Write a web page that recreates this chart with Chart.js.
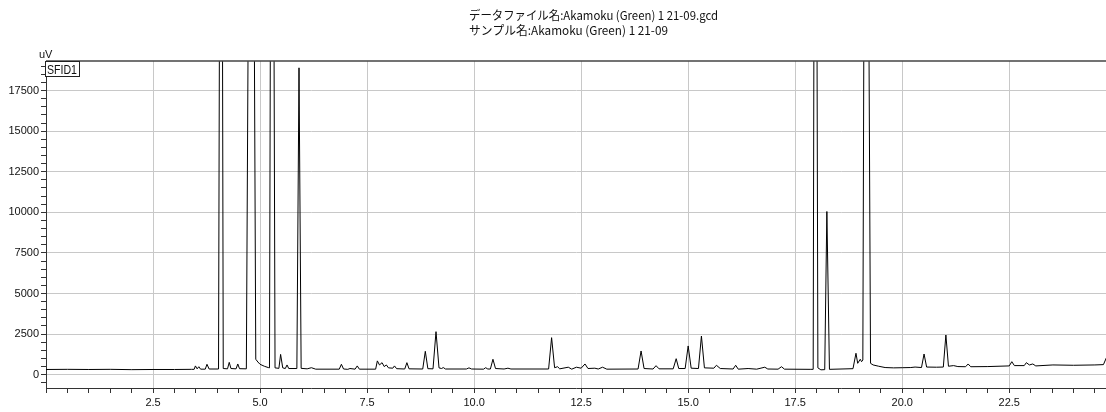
<!DOCTYPE html>
<html>
<head>
<meta charset="utf-8">
<script src="https://cdn.jsdelivr.net/npm/chart.js@4.4.1/dist/chart.umd.min.js"></script>
<style>
    body { margin: 0; background: #fff; }
</style>
</head>
<body>
<canvas id="chromChart" width="1106" height="412"></canvas>
<script>
// chromatogram (minutes, uV)
var retentionTime = [
    0.0, 0.5, 1.0, 1.5, 2.0, 2.5, 3.0, 3.4, 3.46, 3.49, 3.53, 3.57, 3.61, 3.72, 3.76, 3.81,
    4.03, 4.09, 4.14, 4.24, 4.28, 4.32, 4.44, 4.48, 4.52, 4.68, 4.80, 4.90, 4.95, 5.0, 5.1, 5.19,
    5.22, 5.28, 5.35, 5.44, 5.48, 5.53, 5.59, 5.63, 5.67, 5.86, 5.91, 5.96, 6.1, 6.2, 6.3,
    6.85, 6.9, 6.95, 7.05, 7.1, 7.22, 7.27, 7.32, 7.70, 7.74, 7.79, 7.85, 7.9, 7.95, 8.0, 8.1,
    8.14, 8.19, 8.38, 8.43, 8.48, 8.80, 8.86, 8.92, 9.04, 9.11, 9.18, 9.24, 9.28, 9.33, 9.82,
    9.88, 9.94, 10.22, 10.27, 10.32, 10.38, 10.44, 10.50, 10.7, 10.79, 10.86, 11.74, 11.81,
    11.88, 11.95, 12.0, 12.2, 12.28, 12.39, 12.5, 12.59, 12.66, 12.82, 12.9, 13.0, 13.1,
    13.83, 13.9, 13.97, 14.18, 14.25, 14.32, 14.65, 14.72, 14.78, 14.93, 15.0, 15.07, 15.24,
    15.31, 15.38, 15.6, 15.66, 15.75, 16.05, 16.11, 16.17, 16.4, 16.6, 16.79, 16.86, 17.1,
    17.18, 17.25, 17.85, 17.92, 17.97, 18.03, 18.10, 18.19, 18.24, 18.30, 18.85, 18.92, 18.96,
    19.02, 19.05, 19.08, 19.15, 19.26, 19.32, 19.45, 19.6, 19.8, 20.0, 20.2, 20.3, 20.45,
    20.51, 20.57, 20.8, 20.96, 21.02, 21.08, 21.2, 21.3, 21.48, 21.54, 21.6, 22.0, 22.5,
    22.56, 22.62, 22.85, 22.9, 22.97, 23.05, 23.12, 23.52, 24.0, 24.5, 24.7, 24.77
];
var intensity = [
    320, 330, 320, 330, 310, 320, 320, 330, 330, 540, 360, 490, 340, 340, 640, 350,
    350, 60000, 380, 360, 760, 380, 360, 660, 370, 360, 60000, 950, 780, 640, 520, 440,
    420, 60000, 420, 390, 1250, 420, 380, 600, 380, 380, 18900, 390, 360, 430, 340,
    340, 640, 350, 330, 380, 340, 540, 340, 340, 850, 600, 740, 500, 600, 420, 400,
    540, 370, 350, 740, 360, 350, 1440, 370, 360, 2650, 420, 380, 440, 350, 350,
    420, 350, 340, 430, 350, 350, 950, 380, 350, 400, 350, 350, 2280,
    430, 490, 360, 460, 340, 460, 400, 660, 380, 400, 350, 460, 340,
    350, 1460, 380, 350, 555, 360, 360, 985, 380, 380, 1770, 400, 380,
    2380, 420, 400, 580, 380, 350, 580, 340, 380, 340, 460, 350, 340,
    490, 340, 330, 330, 60000, 420, 300, 310, 10050, 330, 370, 1320, 700,
    950, 800, 900, 60000, 700, 600, 520, 440, 420, 430, 440, 470, 440,
    1275, 470, 460, 470, 2445, 520, 560, 500, 490, 660, 490, 500, 540,
    800, 560, 560, 740, 600, 660, 540, 600, 580, 600, 620, 1050
];

var titleLines = ["データファイル名:Akamoku (Green) 1 21-09.gcd", "サンプル名:Akamoku (Green) 1 21-09"];
var yUnit = "uV";
var traceName = "SFID1";

// axis ranges and tick steps (minor / labelled)
var xRange = [0, 24.76];
var yRange = [-820, 19320];
var xMinorStep = 0.5, xLabelStep = 2.5;
var yMinorStep = 500, yLabelStep = 2500;

var points = [];
for (var i = 0; i < retentionTime.length; i++) {
    points.push({ x: retentionTime[i], y: intensity[i] });
}

var tickFont = { family: "'Liberation Sans Narrow', 'Liberation Sans', sans-serif", size: 11 };

function isMajor(v, step) {
    var r = Math.abs(v / step - Math.round(v / step));
    return r < 1e-6;
}

function stepTicks(scale, step) {
    var ticks = [];
    var first = Math.ceil(scale.min / step);
    var last = Math.floor(scale.max / step);
    for (var k = first; k <= last; k++) {
        ticks.push({ value: Math.round(k * step * 1000) / 1000 });
    }
    scale.ticks = ticks;
}

// header texts, unit label, trace box and top frame line
var decorations = {
    id: 'decorations',
    afterDraw: function (chart) {
        var ctx = chart.ctx;
        var area = chart.chartArea;
        ctx.save();
        ctx.fillStyle = '#111';
        ctx.font = "12px 'Noto Sans CJK JP', sans-serif";
        ctx.textBaseline = 'alphabetic';
        ctx.textAlign = 'left';
        ctx.fillText(titleLines[0], 469, 20, 249);
        ctx.fillText(titleLines[1], 469, 35, 199);

        ctx.font = "11px 'Liberation Sans Narrow', 'Liberation Sans', sans-serif";
        ctx.fillText(yUnit, 39, 58);

        ctx.strokeStyle = '#444';
        ctx.lineWidth = 1.5;
        ctx.beginPath();
        ctx.moveTo(area.left, area.top);
        ctx.lineTo(area.right, area.top);
        ctx.stroke();

        ctx.lineWidth = 1;
        ctx.strokeStyle = '#222';
        ctx.fillStyle = '#fff';
        ctx.fillRect(45.5, 61.5, 34, 15);
        ctx.strokeRect(45.5, 61.5, 34, 15);
        ctx.fillStyle = '#111';
        ctx.font = "12px 'Liberation Sans Narrow', 'Liberation Sans', sans-serif";
        ctx.fillText(traceName, 47, 74, 30);
        ctx.restore();
    }
};

new Chart("chromChart", {
    type: "line",
    data: {
        datasets: [{
            data: points,
            borderColor: '#000',
            borderWidth: 1,
            pointRadius: 0,
            tension: 0,
            fill: false
        }]
    },
    options: {
        responsive: false,
        animation: false,
        layout: {
            padding: { top: 61, right: 0, left: 0, bottom: 0 }
        },
        plugins: {
            legend: { display: false },
            title: { display: false },
            tooltip: { enabled: false }
        },
        scales: {
            x: {
                type: 'linear',
                min: xRange[0],
                max: xRange[1],
                afterBuildTicks: function (scale) { stepTicks(scale, xMinorStep); },
                afterFit: function (scale) { scale.height = 24; },
                border: { color: '#333', width: 1 },
                grid: {
                    color: function (c) {
                        return isMajor(c.tick.value, xLabelStep) && c.tick.value > 0 ? '#c8c8c8' : 'rgba(0,0,0,0)';
                    },
                    tickColor: '#333',
                    tickLength: 5
                },
                ticks: {
                    autoSkip: false,
                    maxRotation: 0,
                    padding: 3,
                    color: '#111',
                    font: tickFont,
                    callback: function (v) {
                        if (v > 0 && isMajor(v, xLabelStep)) {
                            return v.toFixed(1);
                        }
                        return '';
                    }
                }
            },
            y: {
                min: yRange[0],
                max: yRange[1],
                afterBuildTicks: function (scale) { stepTicks(scale, yMinorStep); },
                afterFit: function (scale) { scale.width = 46; },
                border: { color: '#333', width: 1 },
                grid: {
                    color: function (c) {
                        return isMajor(c.tick.value, yLabelStep) ? '#c8c8c8' : 'rgba(0,0,0,0)';
                    },
                    tickColor: '#333',
                    tickLength: 5
                },
                ticks: {
                    autoSkip: false,
                    padding: 2,
                    color: '#111',
                    font: tickFont,
                    callback: function (v) {
                        if (isMajor(v, yLabelStep)) {
                            return String(v);
                        }
                        return '';
                    }
                }
            }
        }
    },
    plugins: [decorations]
});
</script>
</body>
</html>
